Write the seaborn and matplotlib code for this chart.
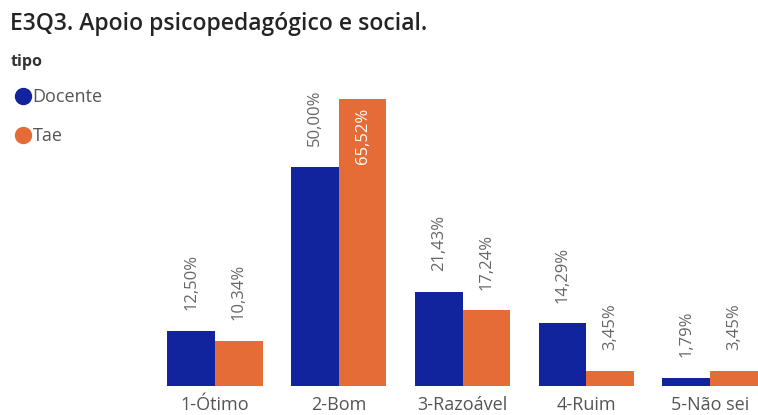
import numpy as np
import pandas as pd
import matplotlib
matplotlib.use("Agg")
import matplotlib.pyplot as plt
from matplotlib.lines import Line2D
import seaborn as sns

# Data
categorias = ["1-Ótimo", "2-Bom", "3-Razoável", "4-Ruim", "5-Não sei"]
docente = [12.50, 50.00, 21.43, 14.29, 1.79]
tae = [10.34, 65.52, 17.24, 3.45, 3.45]
tipos = ["Docente", "Tae"]
cores = {"Docente": "#12239E", "Tae": "#E66C37"}

df = pd.DataFrame({
    "categoria": categorias * 2,
    "tipo": ["Docente"] * len(categorias) + ["Tae"] * len(categorias),
    "valor": docente + tae,
})

sns.set_theme(style="white")
plt.rcParams["font.family"] = ["Open Sans", "DejaVu Sans"]

W, H = 758, 415
fig = plt.figure(figsize=(W / 100, H / 100), dpi=100)

# axes: baseline at y=386px, 4.38 px per %, category spacing ~123.7px
y_max = 70
ax_h = y_max * 4.38
ax = fig.add_axes([153 / W, (H - 386) / H, (W - 153) / W, ax_h / H])

sns.barplot(data=df, x="categoria", y="valor", hue="tipo", palette=cores,
            width=0.77, saturation=1, linewidth=0, legend=False, ax=ax)

ax.set_ylim(0, y_max)
ax.set_xlim(-0.5, 4.5 - (772 - W) / 123.7)
for s in ax.spines.values():
    s.set_visible(False)
ax.set_yticks([])
ax.set_xlabel("")
ax.set_ylabel("")
ax.tick_params(axis="x", length=0, pad=7, labelsize=13, labelcolor="#555555")

# rotated data labels
for cont in ax.containers:
    for bar in cont:
        h = bar.get_height()
        x = bar.get_x() + bar.get_width() / 2
        txt = f"{h:.2f}%".replace(".", ",")
        if h > 60:
            ax.annotate(txt, (x, h), xytext=(0, -6), textcoords="offset points",
                        rotation=90, ha="center", va="top", fontsize=12,
                        color="white")
        else:
            ax.annotate(txt, (x, h), xytext=(0, 15), textcoords="offset points",
                        rotation=90, ha="center", va="bottom", fontsize=12,
                        color="#666666")

# title
fig.text(10 / W, 1 - 24 / H, "E3Q3. Apoio psicopedagógico e social.",
         fontsize=16.5, fontweight="semibold", color="#252423", va="center")

# legend
fig.text(11 / W, 1 - 62 / H, "tipo", fontsize=11.5, fontweight="bold",
         color="#333333", va="center")
handles = [Line2D([0], [0], marker="o", linestyle="", markersize=11.5,
                  markerfacecolor=cores[t], markeredgecolor=cores[t], label=t)
           for t in tipos]
leg = fig.legend(handles=handles, loc="upper left",
                 bbox_to_anchor=(0 / W, 1 - 72 / H), frameon=False,
                 handlelength=0.8, handletextpad=0.1, labelspacing=1.15,
                 fontsize=13)
for t in leg.get_texts():
    t.set_color("#555555")

fig.savefig("out.png", dpi=100)
